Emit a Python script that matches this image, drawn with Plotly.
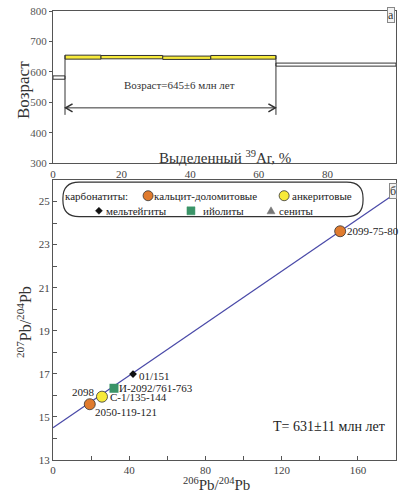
import plotly.graph_objects as go

# ---------------- data: panel a (Ar-Ar age spectrum) ----------------
ar_start = [0, 3.5, 14, 32, 46, 65]
ar_end = [3.5, 14, 32, 46, 65, 100]
age_low = [576, 642, 643, 641, 642, 619]
age_high = [587, 655, 654, 652, 654, 629]
step_in_plateau = [False, True, True, True, True, False]
plateau_from = 3.5
plateau_to = 65
plateau_line_bottom = 459
plateau_arrow_age = 482
plateau_label = "Возраст=645±6 млн лет"

# ---------------- data: panel b (Pb-Pb isochron) ----------------
cd_x = [19.3, 150.7]
cd_y = [15.59, 23.62]
cd_lab = ["2050-119-121", "2099-75-80"]
ank_x = [25.7]
ank_y = [15.94]
ank_lab = ["2098"]
mel_x = [42.0]
mel_y = [16.99]
mel_lab = ["01/151"]
ijo_x = [32.0]
ijo_y = [16.33]
ijo_lab = ["И-2092/761-763"]
sye_x = [25.9]
sye_y = [15.97]
sye_lab = ["С-1/135-144"]
iso_x = [0, 180]
iso_y = [14.5, 25.4]
iso_label = "T= 631±11 млн лет"

SERIF = "Liberation Serif"
ORANGE = "#e07b2e"
YELLOW = "#f7ea3a"
GREEN = "#3a9468"
LINEC = "#4a4aa8"
AXC = "#555555"
ZW = "\u200b"

fig = go.Figure()

# isochron line
fig.add_trace(go.Scatter(x=iso_x, y=iso_y, mode="lines", line=dict(color=LINEC, width=1.2),
                         xaxis="x2", yaxis="y2", showlegend=False, hoverinfo="skip"))
mk_line = dict(color="#333333", width=0.8)
fig.add_trace(go.Scatter(x=sye_x, y=sye_y, mode="markers", xaxis="x2", yaxis="y2",
                         marker=dict(symbol="triangle-up", size=8, color="#888888"), showlegend=False))
fig.add_trace(go.Scatter(x=cd_x, y=cd_y, mode="markers", xaxis="x2", yaxis="y2",
                         marker=dict(symbol="circle", size=11, color=ORANGE, line=mk_line), showlegend=False))
fig.add_trace(go.Scatter(x=ank_x, y=ank_y, mode="markers", xaxis="x2", yaxis="y2",
                         marker=dict(symbol="circle", size=11, color=YELLOW, line=mk_line), showlegend=False))
fig.add_trace(go.Scatter(x=ijo_x, y=ijo_y, mode="markers", xaxis="x2", yaxis="y2",
                         marker=dict(symbol="square", size=9, color=GREEN), showlegend=False))
fig.add_trace(go.Scatter(x=mel_x, y=mel_y, mode="markers", xaxis="x2", yaxis="y2",
                         marker=dict(symbol="diamond", size=6, color="#111111"), showlegend=False))

shapes = []
annotations = []

# age spectrum steps
for xs, xe, lo, hi, pl in zip(ar_start, ar_end, age_low, age_high, step_in_plateau):
    shapes.append(dict(type="rect", xref="x", yref="y", x0=xs, x1=xe, y0=lo, y1=hi,
                       fillcolor=YELLOW if pl else "white",
                       line=dict(color="#333333", width=1), layer="above"))
# plateau verticals
shapes.append(dict(type="line", xref="x", yref="y", x0=plateau_from, x1=plateau_from,
                   y0=plateau_line_bottom, y1=age_high[1], line=dict(color="#333", width=1)))
shapes.append(dict(type="line", xref="x", yref="y", x0=plateau_to, x1=plateau_to,
                   y0=plateau_line_bottom, y1=age_high[4], line=dict(color="#333", width=1)))
# arrow line + chevrons
shapes.append(dict(type="line", xref="x", yref="y", x0=plateau_from, x1=plateau_to,
                   y0=plateau_arrow_age, y1=plateau_arrow_age, line=dict(color="#333", width=1)))
shapes.append(dict(type="path", xref="x", yref="y",
                   path=f"M {plateau_from+2.2},{plateau_arrow_age+13} L {plateau_from+0.2},{plateau_arrow_age} L {plateau_from+2.2},{plateau_arrow_age-13}",
                   line=dict(color="#333", width=1.6)))
shapes.append(dict(type="path", xref="x", yref="y",
                   path=f"M {plateau_to-2.2},{plateau_arrow_age+13} L {plateau_to-0.2},{plateau_arrow_age} L {plateau_to-2.2},{plateau_arrow_age-13}",
                   line=dict(color="#333", width=1.6)))

annotations.append(dict(xref="x", yref="y", x=37, y=558, text=plateau_label, showarrow=False,
                        xanchor="center", font=dict(family=SERIF, size=11, color="#333")))
annotations.append(dict(xref="x", yref="y", x=50, y=322, text="Выделенный <sup>39</sup>Ar, %", showarrow=False,
                        xanchor="center", font=dict(family=SERIF, size=15, color="#333")))
annotations.append(dict(xref="paper", yref="paper", x=(24 - 53) / 343, y=(460 - 90) / 449, text="Возраст",
                        xanchor="center", yanchor="middle",
                        textangle=-90, showarrow=False, font=dict(family=SERIF, size=17, color="#333")))
annotations.append(dict(xref="x", yref="y", x=98.6, y=787, text="а", showarrow=False,
                        bordercolor="#888", borderwidth=1, borderpad=0, bgcolor="#f2f2f2",
                        font=dict(family=SERIF, size=12, color="#333")))

# panel b labels
def lab(xs, ys, texts, dx, dy, anchor="left", size=11):
    for x, y, t in zip(xs, ys, texts):
        annotations.append(dict(xref="x2", yref="y2", x=x, y=y, text=t, showarrow=False,
                                xanchor=anchor, xshift=dx, yshift=dy,
                                font=dict(family=SERIF, size=size, color="#222")))

lab(cd_x[:1], cd_y[:1], cd_lab[:1], 3, -8)
lab(cd_x[1:], cd_y[1:], cd_lab[1:], 5, 0)
lab(ank_x, ank_y, ank_lab, -5, 5, anchor="right")
lab(sye_x, sye_y, sye_lab, 6, -1)
lab(ijo_x, ijo_y, ijo_lab, 3, 0)
lab(mel_x, mel_y, mel_lab, 4, -2)

annotations.append(dict(xref="x2", yref="y2", x=145, y=14.55, text=iso_label, showarrow=False,
                        xanchor="center", font=dict(family=SERIF, size=14, color="#222")))
annotations.append(dict(xref="paper", yref="paper", x=(24 - 53) / 343, y=(460 - 322) / 449,
                        text=ZW + "<sup>207</sup>Pb/<sup>204</sup>Pb", textangle=-90, showarrow=False,
                        xanchor="center", yanchor="middle",
                        font=dict(family=SERIF, size=16, color="#333")))
annotations.append(dict(xref="paper", yref="paper", x=(216 - 53) / 343, y=(460 - 484) / 449,
                        text=ZW + "<sup>206</sup>Pb/<sup>204</sup>Pb", showarrow=False,
                        xanchor="center", yanchor="middle",
                        font=dict(family=SERIF, size=15, color="#333")))
annotations.append(dict(xref="x2", yref="y2", x=178.6, y=25.5, text="б", showarrow=False,
                        bordercolor="#888", borderwidth=1, borderpad=0, bgcolor="#f2f2f2",
                        font=dict(family=SERIF, size=12, color="#333")))

# legend box (panel b)
x0, x1, y0, y1 = 5.2, 162.7, 24.3, 25.9
rx, ry = 8.5, 0.75
shapes.append(dict(type="path", xref="x2", yref="y2",
                   path=(f"M {x0+rx},{y1} L {x1-rx},{y1} Q {x1},{y1} {x1},{y1-ry} L {x1},{y0+ry} "
                         f"Q {x1},{y0} {x1-rx},{y0} L {x0+rx},{y0} Q {x0},{y0} {x0},{y0+ry} "
                         f"L {x0},{y1-ry} Q {x0},{y1} {x0+rx},{y1} Z"),
                   line=dict(color="#333", width=1.2), fillcolor="white", layer="above"))

def circ(x, y, col, r=5):
    shapes.append(dict(type="circle", xref="x2", yref="y2", xsizemode="pixel", ysizemode="pixel",
                       xanchor=x, yanchor=y, x0=-r, x1=r, y0=-r, y1=r, fillcolor=col,
                       line=dict(color="#333", width=0.8), layer="above"))

def pxpath(x, y, path, col):
    shapes.append(dict(type="path", xref="x2", yref="y2", xsizemode="pixel", ysizemode="pixel",
                       xanchor=x, yanchor=y, path=path, fillcolor=col,
                       line=dict(color=col, width=0.5), layer="above"))

r1, r2 = 25.27, 24.57
circ(49.9, r1, ORANGE)
circ(121.3, r1, YELLOW)
pxpath(24.1, r2, "M 0,3.5 L 3.5,0 L 0,-3.5 L -3.5,0 Z", "#111")
pxpath(72.4, r2, "M -4,-4 L 4,-4 L 4,4 L -4,4 Z", GREEN)
pxpath(114.4, r2, "M 0,4 L 4,-3 L -4,-3 Z", "#777")

def ltxt(x, y, t):
    annotations.append(dict(xref="x2", yref="y2", x=x, y=y, text=t, showarrow=False, xanchor="left",
                            font=dict(family=SERIF, size=11, color="#222")))

ltxt(5.0, r1, "карбонатиты:")
ltxt(52.2, r1, "кальцит-доломитовые")
ltxt(124.6, r1, "анкеритовые")
ltxt(27.0, r2, "мельтейгиты")
ltxt(77.8, r2, "ийолиты")
ltxt(117.8, r2, "сениты")

tickfont = dict(family=SERIF, size=11, color="#444")
fig.update_layout(
    width=402, height=495,
    margin=dict(l=53, r=6, t=11, b=35),
    paper_bgcolor="white", plot_bgcolor="white",
    showlegend=False,
    xaxis=dict(domain=[0, 1], range=[0, 100], tickvals=[0, 20, 40, 60, 80, 100], ticks="",
               showline=True, linecolor=AXC, mirror=True, showgrid=False, zeroline=False,
               tickfont=tickfont, anchor="y", automargin=False),
    yaxis=dict(domain=[(460 - 163.3) / 449, 1], range=[300, 800], dtick=100, ticks="outside",
               ticklen=3, tickcolor=AXC, showline=True, linecolor=AXC, mirror=True,
               showgrid=False, zeroline=False, tickfont=dict(family=SERIF, size=11, color="#555"),
               anchor="x", automargin=False),
    xaxis2=dict(domain=[0, 1], range=[0, 180], tickvals=[0, 40, 80, 120, 160], ticks="inside",
                ticklen=4, tickcolor=AXC, minor=dict(dtick=20, ticks="inside", ticklen=4, tickcolor=AXC),
                showline=True, linecolor=AXC, mirror=True, showgrid=False, zeroline=False,
                tickfont=tickfont, anchor="y2", automargin=False),
    yaxis2=dict(domain=[0, (460 - 180) / 449], range=[13, 26], tick0=13, dtick=2, ticks="inside",
                ticklen=4, tickcolor=AXC, minor=dict(dtick=1, ticks="inside", ticklen=4, tickcolor=AXC),
                showline=True, linecolor=AXC, mirror=True, showgrid=False, zeroline=False,
                tickfont=tickfont, anchor="x2", automargin=False),
    shapes=shapes,
    annotations=annotations,
)

fig.write_html("out.html", config={"displayModeBar": False},
               post_script="document.body.style.margin='0px';document.body.style.overflow='hidden';")
